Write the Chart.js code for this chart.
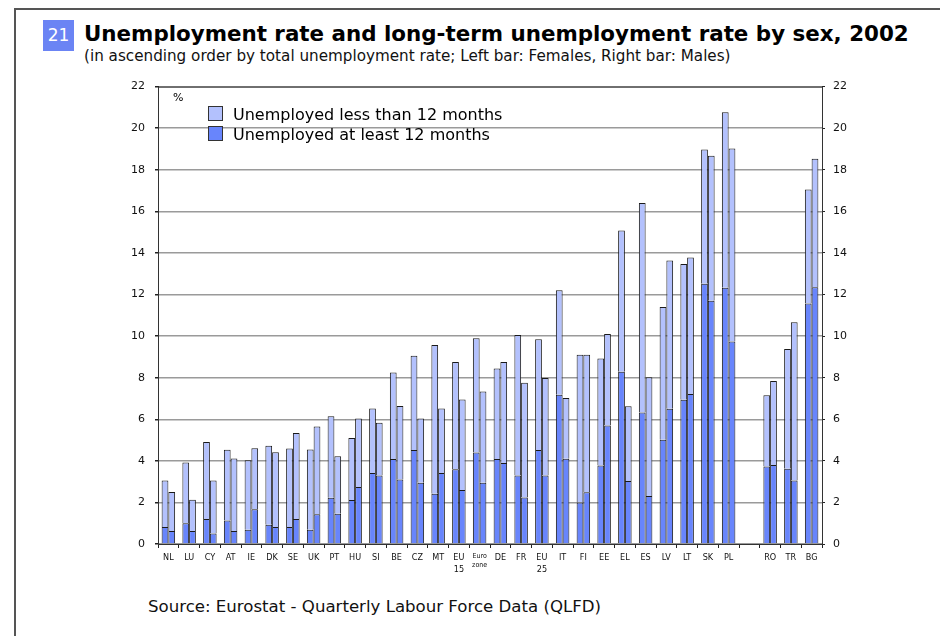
<!DOCTYPE html>
<html lang="en">
<head>
    <meta charset="UTF-8">
    <title>Unemployment rate by sex, 2002</title>
    <script src="https://cdn.jsdelivr.net/npm/chart.js"></script>
    <style>
        body {
            margin: 0;
            width: 940px;
            height: 636px;
            overflow: hidden;
            background: #ffffff;
            font-family: "DejaVu Sans", Verdana, sans-serif;
            color: #000;
            position: relative;
        }
        .frame {
            position: absolute;
            left: 14px;
            top: 8px;
            width: 1000px;
            height: 1000px;
            border-left: 2px solid #555;
            border-top: 2px solid #555;
        }
        .badge {
            position: absolute;
            left: 43px;
            top: 20px;
            width: 31px;
            height: 31px;
            background: #6b84f4;
            color: #fff;
            font-size: 17px;
            line-height: 31px;
            text-align: center;
        }
        .title {
            position: absolute;
            left: 84px;
            top: 23px;
            font-size: 21.4px;
            line-height: 21.4px;
            font-weight: bold;
            white-space: nowrap;
        }
        .subtitle {
            position: absolute;
            left: 84px;
            top: 49px;
            font-size: 15.2px;
            line-height: 15px;
            white-space: nowrap;
            color: #111;
        }
        .chart-box {
            position: absolute;
            left: 100px;
            top: 70px;
            width: 760px;
            height: 504px;
        }
        .pct {
            position: absolute;
            left: 173px;
            top: 91px;
            font-size: 11px;
        }
        .legend {
            position: absolute;
            left: 208px;
            top: 105px;
            font-size: 16px;
            line-height: 20px;
        }
        .legend div {
            white-space: nowrap;
        }
        .legend span {
            display: inline-block;
            width: 13px;
            height: 13px;
            border: 1px solid #333;
            margin-right: 10px;
            vertical-align: -1px;
        }
        .source {
            position: absolute;
            left: 148px;
            top: 597px;
            font-size: 16.6px;
            line-height: 20px;
            white-space: nowrap;
            color: #111;
        }
    </style>
</head>
<body>
    <div class="frame"></div>
    <div class="badge">21</div>
    <div class="title">Unemployment rate and long-term unemployment rate by sex, 2002</div>
    <div class="subtitle">(in ascending order by total unemployment rate; Left bar: Females, Right bar: Males)</div>

    <div class="chart-box">
        <canvas id="unempChart"></canvas>
    </div>

    <div class="pct">%</div>
    <div class="legend">
        <div><span style="background:#b3c1fd"></span>Unemployed less than 12 months</div>
        <div><span style="background:#6885fc"></span>Unemployed at least 12 months</div>
    </div>

    <div class="source">Source: Eurostat - Quarterly Labour Force Data (QLFD)</div>

    <script>
        // Countries (empty slot separates the candidate countries)
        const countries = ['NL', 'LU', 'CY', 'AT', 'IE', 'DK', 'SE', 'UK', 'PT', 'HU', 'SI', 'BE', 'CZ', 'MT',
            ['EU', '15'], ['Euro', 'zone'], 'DE', 'FR', ['EU', '25'], 'IT', 'FI', 'EE', 'EL', 'ES', 'LV', 'LT',
            'SK', 'PL', '', 'RO', 'TR', 'BG'];

        // Total unemployment rate (%), left bar
        const femalesTotal = [3.05, 3.92, 4.9, 4.53, 4.03, 4.73, 4.59, 4.54, 6.14, 5.1, 6.52, 8.25, 9.06, 9.57,
            8.75, 9.9, 8.44, 10.05, 9.85, 12.2, 9.1, 8.92, 15.08, 16.4, 11.4, 13.47, 18.98, 20.77, null, 7.15, 9.38, 17.05];
        // Unemployed at least 12 months (%), left bar
        const femalesLongTerm = [0.82, 1.0, 1.2, 1.13, 0.69, 0.93, 0.82, 0.69, 2.23, 2.12, 3.42, 4.09, 4.52, 2.42,
            3.6, 4.4, 4.09, 3.3, 4.52, 7.18, 2.0, 3.77, 8.28, 6.32, 5.02, 6.94, 12.52, 12.33, null, 3.73, 3.62, 11.57];

        // Total unemployment rate (%), right bar
        const malesTotal = [2.5, 2.13, 3.05, 4.11, 4.6, 4.41, 5.34, 5.65, 4.22, 6.04, 5.83, 6.64, 6.04, 6.52,
            6.95, 7.33, 8.75, 7.76, 7.99, 7.02, 9.1, 10.1, 6.63, 8.02, 13.64, 13.78, 18.67, 19.02, null, 7.84, 10.67, 18.53];
        // Unemployed at least 12 months (%), right bar
        const malesLongTerm = [0.62, 0.62, 0.5, 0.62, 1.67, 0.82, 1.2, 1.43, 1.45, 2.74, 3.3, 3.1, 2.94, 3.42,
            2.6, 2.94, 3.9, 2.24, 3.3, 4.1, 2.49, 5.7, 3.03, 2.31, 6.51, 7.22, 11.7, 9.74, null, 3.8, 3.06, 12.35];

        const yTicks = [0, 2, 4, 6, 8, 10, 12, 14, 16, 18, 20, 22];

        // short-term part sits on top of the long-term part
        function shortPart(total, longTerm) {
            return total.map((t, i) => t == null ? null : +(t - longTerm[i]).toFixed(2));
        }

        const LONG_COLOR = '#6885fc';
        const SHORT_COLOR = '#b3c1fd';

        function barSet(label, data, color, stack) {
            return {
                label: label,
                data: data,
                stack: stack,
                backgroundColor: color,
                borderColor: '#1a1a1a',
                borderWidth: 1,
                categoryPercentage: 0.65,
                barPercentage: 1.0
            };
        }

        // frame round the plot area
        const plotFrame = {
            id: 'plotFrame',
            afterDraw(chart) {
                const a = chart.chartArea;
                const c = chart.ctx;
                c.save();
                c.strokeStyle = '#333';
                c.lineWidth = 1;
                c.strokeRect(a.left + 0.5, a.top + 0.5, a.right - a.left, a.bottom - a.top);
                c.restore();
            }
        };

        const tickFont = { family: 'DejaVu Sans', size: 11 };

        const ctx = document.getElementById('unempChart').getContext('2d');
        new Chart(ctx, {
            type: 'bar',
            data: {
                labels: countries,
                datasets: [
                    barSet('Females, at least 12 months', femalesLongTerm, LONG_COLOR, 'F'),
                    barSet('Females, less than 12 months', shortPart(femalesTotal, femalesLongTerm), SHORT_COLOR, 'F'),
                    barSet('Males, at least 12 months', malesLongTerm, LONG_COLOR, 'M'),
                    barSet('Males, less than 12 months', shortPart(malesTotal, malesLongTerm), SHORT_COLOR, 'M')
                ]
            },
            options: {
                responsive: true,
                maintainAspectRatio: false,
                animation: false,
                layout: { padding: { top: 12, left: 0, right: 0, bottom: 0 } },
                plugins: {
                    legend: { display: false },
                    tooltip: { enabled: false }
                },
                scales: {
                    x: {
                        stacked: true,
                        grid: {
                            display: true,
                            drawOnChartArea: false,
                            tickLength: 4,
                            color: '#222',
                            offset: true
                        },
                        border: { color: '#222' },
                        ticks: {
                            color: '#111',
                            padding: 4,
                            maxRotation: 0,
                            autoSkip: false,
                            font: (c) => ({
                                family: 'DejaVu Sans Condensed',
                                size: c.index === 15 ? 7 : 9,
                                lineHeight: 1.3
                            })
                        },
                        afterFit: (scale) => { scale.height = 30; }
                    },
                    y: {
                        stacked: true,
                        min: 0,
                        max: 22,
                        afterBuildTicks: (scale) => { scale.ticks = yTicks.map(v => ({ value: v })); },
                        grid: { color: '#9a9a9a', lineWidth: 1.5, tickLength: 3, tickColor: '#222' },
                        border: { color: '#222' },
                        ticks: { color: '#111', padding: 10, font: tickFont },
                        afterFit: (scale) => { scale.width = 58; }
                    },
                    y2: {
                        position: 'right',
                        min: 0,
                        max: 22,
                        afterBuildTicks: (scale) => { scale.ticks = yTicks.map(v => ({ value: v })); },
                        grid: { drawOnChartArea: false, tickLength: 3, color: '#222' },
                        border: { color: '#222' },
                        ticks: { color: '#111', padding: 8, font: tickFont },
                        afterFit: (scale) => { scale.width = 38; }
                    }
                }
            },
            plugins: [plotFrame]
        });
    </script>
</body>
</html>
